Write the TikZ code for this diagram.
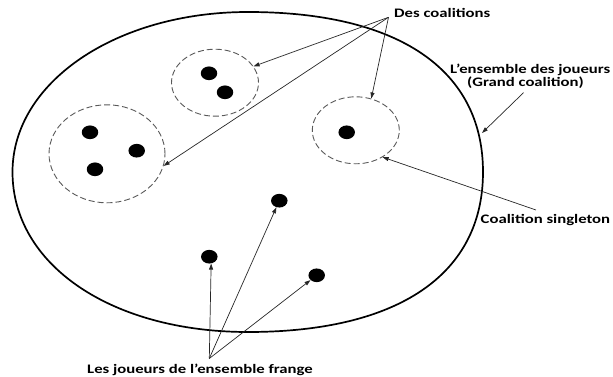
\documentclass[tikz,border=0pt]{standalone}
\usepackage{fontspec}
\setmainfont{Carlito}
\newfontfamily\labfont[FakeStretch=1.285]{Carlito}
\usetikzlibrary{shapes.geometric,arrows.meta}
\begin{document}
\begin{tikzpicture}[x=1pt,y=-1pt,
  lab/.style={font=\labfont\bfseries\fontsize{13}{11}\selectfont, inner sep=0pt, anchor=base west},
  dot/.style={ellipse, fill=black, minimum width=16.5pt, minimum height=13.7pt, inner sep=0pt},
  coal/.style={ellipse, draw=black!65, dash pattern=on 6pt off 3pt, line width=0.9pt, inner sep=0pt},
  arr/.style={-{Triangle[length=6pt,width=4pt]}, line width=0.7pt, black!85},
  outline/.style={line width=1.7pt}]
\useasboundingbox (0,0) rectangle (613,377);
% the whole set of players
\draw[outline] (483,172) .. controls (483,69.6) and (398.4,12) .. (248,12)
  .. controls (116.1,12) and (12.5,82.4) .. (12.5,172)
  .. controls (12.5,264.8) and (111.4,332) .. (248,332)
  .. controls (398.4,332) and (483,274.4) .. (483,172) -- cycle;
\coordinate (Etip) at (482,133);
% coalitions
\node[coal, minimum width=87pt, minimum height=67pt] (A) at (215,82.7) {};
\node[coal, minimum width=116pt, minimum height=98pt] (B) at (107,153.8) {};
\node[coal, minimum width=87pt, minimum height=67pt] (C) at (355.8,130.3) {};
% players
\node[dot] (a1) at (209,73.3) {};
\node[dot] (a2) at (225,92.3) {};
\node[dot] (b1) at (90,132.3) {};
\node[dot] (b2) at (136.7,150.7) {};
\node[dot] (b3) at (95,169.3) {};
\node[dot] (c1) at (346.7,132.3) {};
\node[dot] (f2) at (279.3,200.7) {};
\node[dot] (f1) at (209.3,256.7) {};
\node[dot] (f3) at (316.7,275.3) {};
% labels
\node[lab] (dc) at (394,17.3) {Des coalitions};
\node[lab] (en) at (450,74) {\begin{tabular}[t]{@{}l@{}}L’ensemble des joueurs\\\hspace{17pt}(Grand coalition)\end{tabular}};
\node[lab] (cs) at (480.5,223) {Coalition singleton};
\node[lab] (fr) at (87,373) {Les joueurs de l’ensemble frange};
% arrow origins
\coordinate (dcp) at (388.5,17.3);
\coordinate (enp) at (523.5,92.7);
\coordinate (csp) at (536,210);
\coordinate (frp) at (209.3,358.5);
% connectors
\draw[arr] (dcp) -- (A.23);
\draw[arr] (dcp) -- (B.-12);
\draw[arr] (dcp) -- (C.64);
\draw[arr] (enp) -- (Etip);
\draw[arr] (csp) -- (C.-45);
\draw[arr] (frp) -- (f1.-75);
\draw[arr] (frp) -- (f2);
\draw[arr] (frp) -- (f3);
\end{tikzpicture}
\end{document}
